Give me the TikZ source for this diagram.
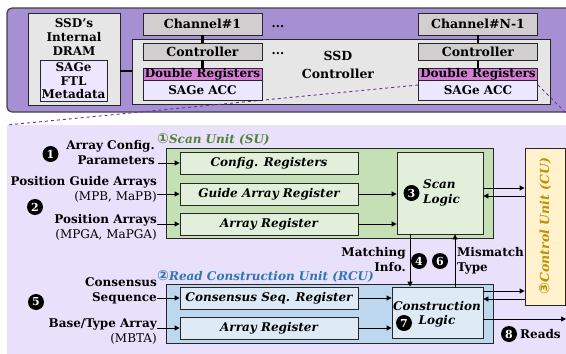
\documentclass[tikz,border=0pt]{standalone}
\usepackage{fontspec}
\setmainfont{DejaVu Serif}
\newfontfamily\symfont{DejaVu Sans}
\usetikzlibrary{arrows.meta}
\definecolor{PanelPurple}{HTML}{A78FD4}
\definecolor{BoxGray}{HTML}{E6E6E6}
\definecolor{ChanGray}{HTML}{D0CECE}
\definecolor{RegPink}{HTML}{D57ED5}
\definecolor{AccLavender}{HTML}{EDE6FF}
\definecolor{ZoomLavender}{HTML}{E9E1FC}
\definecolor{ScanGreen}{HTML}{C5E0B4}
\definecolor{ScanGreenLight}{HTML}{E2EFDA}
\definecolor{ScanGreenText}{HTML}{548235}
\definecolor{ReadBlue}{HTML}{BDD7EE}
\definecolor{ReadBlueLight}{HTML}{DEEBF7}
\definecolor{ReadBlueText}{HTML}{2E75B6}
\definecolor{CtrlYellow}{HTML}{FFF2CC}
\definecolor{CtrlYellowText}{HTML}{BF9000}
\definecolor{ZoomLine}{HTML}{7030A0}
\newcommand{\unitnum}[1]{{\symfont\fontsize{14}{14}\selectfont #1}}
\begin{document}
\begin{tikzpicture}[x=1pt,y=-1pt,>={Triangle[length=5pt,width=5pt]},
  font=\bfseries\fontsize{12}{14}\selectfont,
  box/.style={draw=black!85,line width=0.8pt,inner sep=0pt,align=center},
  chan/.style={box,fill=ChanGray,minimum width=119pt},
  reg/.style={box,minimum width=178pt,minimum height=22pt,
    font=\bfseries\itshape\fontsize{12}{14}\selectfont},
  intext/.style={anchor=east,align=right,inner sep=0pt,
    font=\bfseries\fontsize{12}{15}\selectfont},
  unitlabel/.style={anchor=west,inner sep=0pt,
    font=\bfseries\itshape\fontsize{12}{14}\selectfont},
  num/.style={circle,fill=black,text=white,inner sep=0pt,minimum size=16pt,
    font=\bfseries\fontsize{11}{11}\selectfont},
  link/.style={line width=2.4pt},
  flow/.style={->,line width=0.8pt}]
  \path[use as bounding box] (0,0) rectangle (566,354);
  % SSD overview
  \draw[draw=black!75,line width=1.2pt,fill=PanelPurple,rounded corners=5pt]
    (7,8) rectangle (580,112);
  \fill[ZoomLavender] (7,125) rectangle (580,354);
  \coordinate (zoomleft) at (7,125);
  \coordinate (zoomright) at (578,125);
  \node[box,fill=BoxGray,minimum width=418pt,minimum height=65pt] (ssdctrl) at (341,71.5) {};
  \node[box,fill=AccLavender,minimum width=119pt,minimum height=20pt] (accN) at (478,90) {SAGe ACC};
  \draw[ZoomLine,dashed,line width=0.9pt] ([yshift=5pt]accN.west) -- (zoomleft);
  \draw[ZoomLine,dashed,line width=0.9pt] ([yshift=5pt]accN.east) -- (zoomright);
  \node[box,fill=BoxGray,minimum width=92pt,minimum height=92pt] (dram) at (74,59) {};
  \node[align=center,inner sep=0pt,font=\bfseries\fontsize{12}{14}\selectfont] (dramtext) at (74,37) {SSD’s\\Internal\\DRAM};
  \node[box,fill=AccLavender,minimum width=67pt,minimum height=41pt,
    font=\bfseries\fontsize{12}{13.5}\selectfont] (ftl) at (73.5,81) {SAGe\\FTL\\Metadata};
  \node[align=center,font=\bfseries\fontsize{12.5}{18}\selectfont] (ssdtext) at (338,65) {SSD\\Controller};
  \node[chan,minimum height=22pt,font=\bfseries\fontsize{12.5}{14}\selectfont] (chan1) at (202.5,24) {Channel\#1};
  \node[chan,minimum height=17pt,font=\bfseries\fontsize{12.5}{14}\selectfont] (ctrl1) at (202.5,51.5) {Controller};
  \node[box,fill=RegPink,minimum width=119pt,minimum height=12pt] (dreg1) at (202.5,74) {Double Registers};
  \node[box,fill=AccLavender,minimum width=119pt,minimum height=20pt] (acc1) at (202.5,90) {SAGe ACC};
  \node[chan,minimum height=22pt,font=\bfseries\fontsize{12.5}{14}\selectfont] (chanN) at (478,24) {Channel\#N-1};
  \node[chan,minimum height=17pt,font=\bfseries\fontsize{12.5}{14}\selectfont] (ctrlN) at (478,51.5) {Controller};
  \node[box,fill=RegPink,minimum width=119pt,minimum height=12pt] (dregN) at (478,74) {Double Registers};
  \node[anchor=base] (dotschan) at (278,27) {...};
  \node[anchor=base] (dotsctrl) at (278,54) {...};
  \draw[link] (chan1.south) -- (ctrl1.north);
  \draw[link] (ctrl1.south) -- (dreg1.north);
  \draw[link] (chanN.south) -- (ctrlN.north);
  \draw[link] (ctrlN.south) -- (dregN.north);
  \draw[link] ([yshift=-12pt]dram.east) -- ([yshift=-12pt]dram.east -| ssdctrl.west);
  % Scan Unit
  \node[box,fill=ScanGreen,minimum width=327pt,minimum height=90pt] (su) at (329.5,193) {};
  \node[unitlabel,text=ScanGreenText] (sulabel) at (157,139) {\unitnum{①}Scan Unit (SU)};
  \node[reg,fill=ScanGreenLight] (cfgreg) at (269,163) {Config. Registers};
  \node[reg,fill=ScanGreenLight] (guidereg) at (269,194) {Guide Array Register};
  \node[reg,fill=ScanGreenLight] (arrreg) at (269,224) {Array Register};
  \node[box,fill=ScanGreenLight,minimum width=86pt,minimum height=82pt] (scanlogic) at (440,193) {};
  \node[num] (n3) at (411.5,193) {3};
  \node[anchor=west,align=left,inner sep=0pt,
    font=\bfseries\itshape\fontsize{12}{15}\selectfont] (scantext) at (423,192.5) {Scan\\Logic};
  \node[intext] (cfgin) at (155,152.5) {Array Config.\\Parameters};
  \node[num] (n1) at (50.5,154) {1};
  \node[intext] (guidein) at (157,189.5) {Position Guide Arrays\\{\mdseries (MPB, MaPB)}};
  \node[num] (n2) at (35,207) {2};
  \node[intext] (posin) at (157,227.5) {Position Arrays\\{\mdseries (MPGA, MaPGA)}};
  \draw[flow] ([xshift=3pt]cfgin.east |- cfgreg) -- (cfgreg);
  \draw[flow] (guidein.east |- guidereg) -- (guidereg);
  \draw[flow] (posin.east |- arrreg) -- (arrreg);
  \draw[flow] (guidereg.east) -- (guidereg -| scanlogic.west);
  \draw[flow] (arrreg.east) -- (arrreg -| scanlogic.west);
  % Read Construction Unit
  \node[box,fill=ReadBlue,minimum width=327pt,minimum height=59pt] (rcu) at (329.5,313.5) {};
  \node[unitlabel,text=ReadBlueText] (rculabel) at (157,276) {\unitnum{②}Read Construction Unit (RCU)};
  \node[reg,fill=ReadBlueLight] (consreg) at (269,298) {Consensus Seq. Register};
  \node[reg,fill=ReadBlueLight] (basereg) at (269,328) {Array Register};
  \node[box,fill=ReadBlueLight,minimum width=91pt,minimum height=51pt] (conslogic) at (437.5,312.5) {};
  \node[inner sep=0pt,font=\bfseries\itshape\fontsize{12}{14}\selectfont] (constext) at (437,306) {Construction};
  \node[num] (n7) at (404,323) {7};
  \node[inner sep=0pt,font=\bfseries\itshape\fontsize{12}{14}\selectfont] (logictext) at (437,321) {Logic};
  \node[intext] (consin) at (157,290.5) {Consensus\\Sequence};
  \node[num] (n5) at (36,302) {5};
  \node[intext] (basein) at (157,331.5) {Base/Type Array\\{\mdseries (MBTA)}};
  \draw[flow] (consin.east |- consreg) -- (consreg);
  \draw[flow] (basein.east |- basereg) -- (basereg);
  \draw[flow] (consreg.east) -- (consreg -| conslogic.west);
  \draw[flow] (basereg.east) -- (basereg -| conslogic.west);
  % between the units
  \draw[flow] ([xshift=-30pt]scanlogic.south) -- ([xshift=-30pt]scanlogic.south |- conslogic.north);
  \draw[flow] ([xshift=15pt]scanlogic.south |- conslogic.north) -- ([xshift=15pt]scanlogic.south);
  \node[anchor=east,align=right,inner sep=0pt,font=\bfseries\fontsize{12}{15}\selectfont] (matchtext) at (406,260) {Matching\\Info.};
  \node[num] (n4) at (419,261) {4};
  \node[num] (n6) at (440,261) {6};
  \node[anchor=west,align=left,inner sep=0pt,font=\bfseries\fontsize{12}{15}\selectfont] (mismatchtext) at (457,261) {Mismatch\\Type};
  % Control Unit
  \node[box,fill=CtrlYellow,minimum width=40pt,minimum height=157pt] (cu) at (545,226.5) {};
  \node[rotate=90,inner sep=0pt,text=CtrlYellowText,
    font=\bfseries\itshape\fontsize{12.5}{14}\selectfont] (cutext) at (545,226) {\unitnum{③}Control Unit (CU)};
  \draw[flow] ([yshift=5pt]scanlogic.east) -- ([yshift=5pt]scanlogic.east -| cu.west);
  \draw[flow] ([yshift=-3pt]scanlogic.east -| cu.west) -- ([yshift=-3pt]scanlogic.east);
  \draw[flow] ([yshift=21.5pt]conslogic.east) -- ([yshift=21.5pt]conslogic.east -| cu.west);
  \draw[flow] ([yshift=13.5pt]conslogic.east -| cu.west) -- ([yshift=13.5pt]conslogic.east);
  % output
  \coordinate (readsout) at (566,319);
  \draw[flow] (conslogic.east |- readsout) -- (readsout);
  \node[num] (n8) at (509,334) {8};
  \node[anchor=west,inner sep=0pt] (readstext) at (520,334) {Reads};
\end{tikzpicture}
\end{document}
